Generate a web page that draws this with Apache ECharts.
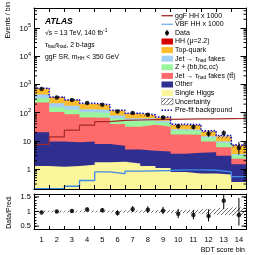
<!DOCTYPE html>
<html><head><meta charset="utf-8">
<script src="https://cdn.jsdelivr.net/npm/echarts@6/dist/echarts.min.js"></script>
<style>html,body{margin:0;padding:0;background:#fff}#c{width:266px;height:255px}</style>
</head><body><div id="c"></div>
<script>
// ---------- data ----------
const bins = [1,2,3,4,5,6,7,8,9,10,11,12,13,14];
const xLabels = ['1','2','3','4','5','6','7','8','9','10','11','12','13','14'];
const singleHiggs = [1.3, 1.22, 1.3, 1.45, 1.75, 1.85, 1.6, 1.3, 1.1, 0.8, 0.7, 0.7, 0.65, 0.35];
const otherBkg    = [19.0, 8.4, 7.7, 8.15, 6.05, 4.85, 3.4, 3.2, 3.1, 2.7, 3.1, 3.3, 2.35, 1.15];
const jetFakesTT  = [210, 95, 79, 58, 58, 33, 27, 32.5, 27.8, 13.5, 12.7, 5.5, 3.0, 0.85];
const zHF         = [90, 52, 40, 35, 32, 24, 20, 17, 13, 6.5, 6.5, 3.5, 2.5, 0.8];
const jetFakes    = [120, 60, 47, 30, 27, 16, 12, 9, 7, 2.5, 2, 1.5, 1.0, 0.3];
const topQuark    = [260, 128, 100, 71, 58, 36, 27, 16, 14, 10, 10, 6.5, 4.5, 3.3];
const hhSignal    = [0.02, 0.03, 0.05, 0.08, 0.1, 0.12, 0.13, 0.13, 0.13, 0.13, 0.14, 0.14, 0.14, 0.14];
const ggFHH       = [7.5, 14, 24, 36, 48, 53, 55, 57, 58, 59, 60, 60, 61, 62];
const vbfHH       = [0.205, 0.205, 0.25, 0.4, 0.8, 0.7, 0.85, 0.88, 0.9, 0.95, 0.95, 0.92, 0.8, 0.55];
const prefitBkg   = [735, 360, 285, 215, 192, 122, 96, 84, 70, 39, 38, 23, 15.5, 7.2];
const dataVals    = [680, 345, 280, 218, 190, 110, 98, 84, 68, 33, 31, 18, 19, 5.6];
const ratioVals   = [0.97, 1.00, 1.02, 1.07, 1.04, 0.95, 1.08, 1.06, 1.03, 0.92, 0.88, 0.85, 1.37, 0.88];
const ratioErrUp  = [0.04, 0.05, 0.06, 0.07, 0.08, 0.09, 0.11, 0.12, 0.13, 0.17, 0.17, 0.22, 0.33, 0.58];
const ratioErrDn  = [0.04, 0.05, 0.06, 0.07, 0.07, 0.09, 0.10, 0.11, 0.12, 0.15, 0.15, 0.19, 0.28, 0.36];
const uncRel      = [0.03, 0.03, 0.03, 0.03, 0.03, 0.04, 0.04, 0.04, 0.05, 0.05, 0.06, 0.09, 0.12, 0.14];

const FONT = 'Liberation Sans, Arial, Helvetica, sans-serif';
const YMIN = 0.2, YMAX = 5e5;

const layers = [
  {name:'Single Higgs', vals: singleHiggs, color:'#fbf59c'},
  {name:'Other', vals: otherBkg, color:'#2e2f8f'},
  {name:'JetTT', vals: jetFakesTT, color:'#ff6b6b'},
  {name:'Z', vals: zHF, color:'#9af59c'},
  {name:'Jet', vals: jetFakes, color:'#a3cff7'},
  {name:'Top', vals: topQuark, color:'#fcbd2d'},
  {name:'HH', vals: hhSignal, color:'#d40000'}
];
const cum = [];
layers.forEach((l, i) => cum.push(l.vals.map((v, k) => v + (i ? cum[i-1][k] : 0))));
const total = cum[cum.length-1];

const stepPts = vals => { const o=[]; vals.forEach((v,i)=>{ o.push([bins[i]-0.5, v]); o.push([bins[i]+0.5, v]); }); return o; };

function makeHatch(color){
  const c=document.createElement('canvas'); c.width=4; c.height=4;
  const g=c.getContext('2d'); g.strokeStyle=color; g.lineWidth=0.8; g.beginPath();
  g.moveTo(0,4); g.lineTo(4,0); g.moveTo(-1,1); g.lineTo(1,-1); g.moveTo(3,5); g.lineTo(5,3); g.stroke();
  return {image:c, repeat:'repeat'};
}
const hatch = makeHatch('#444');

function bandRender(params, api){
  const x=api.value(0), lo=api.value(1), hi=api.value(2);
  const a=api.coord([x-0.5, hi]), b=api.coord([x+0.5, lo]);
  return {type:'rect', shape:{x:a[0], y:a[1], width:b[0]-a[0], height:b[1]-a[1]}, style:{fill:hatch}};
}
function errRender(params, api){
  const x=api.value(0), lo=api.value(1), hi=api.value(2);
  const a=api.coord([x, hi]), b=api.coord([x, lo]);
  return {type:'line', shape:{x1:a[0], y1:a[1], x2:b[0], y2:b[1]}, style:{stroke:'#000', lineWidth:1}};
}
function tickRender(len){
  return function(params, api){
    const v=api.value(1);
    const l=api.coord([0.5, v]), r=api.coord([14.5, v]);
    return {type:'group', children:[
      {type:'line', shape:{x1:l[0], y1:l[1], x2:l[0]+len, y2:l[1]}, style:{stroke:'#000', lineWidth:1}},
      {type:'line', shape:{x1:r[0], y1:r[1], x2:r[0]-len, y2:r[1]}, style:{stroke:'#000', lineWidth:1}}
    ]};
  };
}
const minorLog = [];
for (let d=-1; d<=5; d++) for (let m=2; m<=9; m++) { const v=m*Math.pow(10,d); if (v>YMIN*1.001 && v<YMAX*0.999) minorLog.push([1, v]); }

const series = [];
for (let i=layers.length-1; i>=0; i--) {
  series.push({type:'line', xAxisIndex:0, yAxisIndex:0, data: stepPts(cum[i]), symbol:'none', silent:true,
    lineStyle:{width:0}, areaStyle:{color:layers[i].color, opacity:1, origin:'start'}, z:2});
}
series.push({type:'line', xAxisIndex:0, yAxisIndex:0, data: stepPts(ggFHH), symbol:'none', lineStyle:{color:'#a52a2a', width:1.2}, z:3});
series.push({type:'line', xAxisIndex:0, yAxisIndex:0, data: stepPts(vbfHH), symbol:'none', lineStyle:{color:'#3d8ae6', width:1.3}, z:3});
series.push({type:'custom', xAxisIndex:0, yAxisIndex:0, renderItem: bandRender, clip:true, z:4,
  data: bins.map((b,i)=>[b, total[i]*(1-uncRel[i]), total[i]*(1+uncRel[i])])});
series.push({type:'line', xAxisIndex:0, yAxisIndex:0, data: stepPts(prefitBkg), symbol:'none', lineStyle:{color:'#1010c8', width:1.5, type:[1.5,1.5]}, z:5});
series.push({type:'custom', xAxisIndex:0, yAxisIndex:0, renderItem: errRender, clip:true, z:6,
  data: bins.map((b,i)=>[b, dataVals[i]*(1-ratioErrDn[i]/ratioVals[i]), dataVals[i]*(1+ratioErrUp[i]/ratioVals[i])])});
series.push({type:'scatter', xAxisIndex:0, yAxisIndex:0, data: bins.map((b,i)=>[b, dataVals[i]]), symbol:'circle', symbolSize:4.5, itemStyle:{color:'#000'}, z:7});
series.push({type:'custom', xAxisIndex:0, yAxisIndex:0, renderItem: tickRender(3), data: minorLog, z:8});
// ratio panel
series.push({type:'custom', xAxisIndex:3, yAxisIndex:2, renderItem: bandRender, clip:true, z:4,
  data: bins.map((b,i)=>[b, 1-uncRel[i], 1+uncRel[i]])});
series.push({type:'custom', xAxisIndex:3, yAxisIndex:2, renderItem: errRender, clip:true, z:6,
  data: bins.map((b,i)=>[b, ratioVals[i]-ratioErrDn[i], ratioVals[i]+ratioErrUp[i]])});
series.push({type:'scatter', xAxisIndex:3, yAxisIndex:2, data: bins.map((b,i)=>[b, ratioVals[i]]), symbol:'circle', symbolSize:4.5, itemStyle:{color:'#000'}, z:7});
series.push({type:'custom', xAxisIndex:3, yAxisIndex:2, renderItem: tickRender(5), data: [[1,0.5],[1,1],[1,1.5]], z:8});

const axLine = {show:true, onZero:false, lineStyle:{color:'#000', width:1}};
const catAxis = (grid, pos, labels, tickLen) => ({
  gridIndex:grid, type:'category', data:xLabels, position:pos, boundaryGap:true, z:10,
  axisLine:axLine, axisTick:{show:true, inside:true, length:tickLen, interval:0, lineStyle:{color:'#000'}},
  axisLabel: labels ? {show:true, interval:0, margin:7, fontSize:7.5, fontFamily:FONT, color:'#000'} : {show:false},
  splitLine:{show:false}
});
const supRich = {b:{fontSize:7.5, fontFamily:FONT, color:'#000', lineHeight:10, verticalAlign:'bottom'},
                 s:{fontSize:5.5, fontFamily:FONT, color:'#000', lineHeight:6, verticalAlign:'top'}};

const subTxt = {n:{fontSize:7, fontFamily:FONT, fill:'#000', lineHeight:9}, s:{fontSize:5, fontFamily:FONT, fill:'#000', lineHeight:5, verticalAlign:'bottom'},
  u:{fontSize:5, fontFamily:FONT, fill:'#000', lineHeight:5, verticalAlign:'top'}};
const infoRich = {n:{fontSize:6.8, fontFamily:FONT, fill:'#000', lineHeight:9}, s:{fontSize:4.8, fontFamily:FONT, fill:'#000', lineHeight:5, verticalAlign:'bottom'},
  u:{fontSize:4.8, fontFamily:FONT, fill:'#000', lineHeight:5, verticalAlign:'top'}};

const legendEntries = [
  {t:'{n|ggF HH x 1000}', kind:'line', color:'#a52a2a'},
  {t:'{n|VBF HH x 1000}', kind:'line', color:'#7ab0f5'},
  {t:'{n|Data}', kind:'data'},
  {t:'{n|HH (μ=2.2)}', kind:'box', color:'#d40000'},
  {t:'{n|Top-quark}', kind:'box', color:'#fcbd2d'},
  {t:'{n|Jet → τ}{s|had}{n| fakes}', kind:'box', color:'#a3cff7'},
  {t:'{n|Z + (bb,bc,cc)}', kind:'box', color:'#9af59c'},
  {t:'{n|Jet → τ}{s|had}{n| fakes (tt\u0304)}', kind:'box', color:'#ff6b6b'},
  {t:'{n|Other}', kind:'box', color:'#2e2f8f'},
  {t:'{n|Single Higgs}', kind:'box', color:'#fbf59c'},
  {t:'{n|Uncertainty}', kind:'hatch'},
  {t:'{n|Pre-fit background}', kind:'dot'}
];
const g = [];
legendEntries.forEach((e, i) => {
  const y = 15.7 + 8.6*i;
  if (e.kind==='line') g.push({type:'line', shape:{x1:161.5, y1:y, x2:173, y2:y}, style:{stroke:e.color, lineWidth:1.3}});
  if (e.kind==='dot') g.push({type:'line', shape:{x1:161.5, y1:y, x2:173, y2:y}, style:{stroke:'#1010c8', lineWidth:1.5, lineDash:[1.5,1.5]}});
  if (e.kind==='box') g.push({type:'rect', shape:{x:161.5, y:y-3, width:11.5, height:6}, style:{fill:e.color}});
  if (e.kind==='hatch') g.push({type:'rect', shape:{x:161.5, y:y-3, width:11.5, height:6}, style:{fill:hatch, stroke:'#666', lineWidth:0.5}});
  if (e.kind==='data') { g.push({type:'circle', shape:{cx:167, cy:y, r:2}, style:{fill:'#000'}});
                         g.push({type:'line', shape:{x1:167, y1:y-3, x2:167, y2:y+3}, style:{stroke:'#000', lineWidth:1}}); }
  g.push({type:'text', x:175, y:y, style:{text:e.t, rich:subTxt, align:'left', verticalAlign:'middle', textAlign:'left', textVerticalAlign:'middle'}});
});
g.push({type:'text', x:45, y:22, style:{text:'ATLAS', font:'italic bold 8.5px '+FONT, fill:'#000', align:'left', verticalAlign:'middle'}});
g.push({type:'text', x:45, y:33, style:{text:'{n|√s = 13 TeV, 140 fb}{u|-1}', rich:infoRich, align:'left', verticalAlign:'middle'}});
g.push({type:'text', x:45, y:45, style:{text:'{n|τ}{s|had}{n|τ}{s|had}{n|, 2 b-tags}', rich:infoRich, align:'left', verticalAlign:'middle'}});
g.push({type:'text', x:45, y:57, style:{text:'{n|ggF SR, m}{s|HH}{n| < 350 GeV}', rich:infoRich, align:'left', verticalAlign:'middle'}});
g.push({type:'text', x:8, y:2, rotation:Math.PI/2, style:{text:'Events / bin', font:'7px '+FONT, fill:'#000', align:'right', verticalAlign:'middle'}});
g.push({type:'text', x:9, y:212, rotation:Math.PI/2, style:{text:'Data/Pred.', font:'7px '+FONT, fill:'#000', align:'center', verticalAlign:'middle'}});
g.push({type:'text', x:245, y:250, style:{text:'BDT score bin', font:'7px '+FONT, fill:'#000', align:'right', verticalAlign:'middle'}});

const option = {
  animation:false,
  backgroundColor:'#fff',
  grid:[{left:34, top:8, width:212.5, height:181}, {left:34, top:194, width:212.5, height:35}],
  xAxis:[
    {gridIndex:0, type:'value', min:0.5, max:14.5, show:false},
    catAxis(0,'bottom',false,4),
    catAxis(0,'top',false,4),
    {gridIndex:1, type:'value', min:0.5, max:14.5, show:false},
    catAxis(1,'bottom',true,3),
    catAxis(1,'top',false,3)
  ],
  yAxis:[
    {gridIndex:0, type:'log', min:YMIN, max:YMAX, splitNumber:6, position:'left', z:10,
     axisLine:axLine, axisTick:{show:true, inside:true, length:6, lineStyle:{color:'#000'}}, splitLine:{show:false},
     axisLabel:{show:true, margin:3, showMinLabel:true, showMaxLabel:true, rich:supRich,
       formatter: v => { const e=Math.log10(v); if (Math.abs(e-Math.round(e))>1e-6) return ''; const n=Math.round(e);
         if (n<0 || n>5) return ''; if (n===0) return '{b|1}'; if (n===1) return '{b|10}'; return '{b|10}{s|'+n+'}'; }}},
    {gridIndex:0, type:'log', min:YMIN, max:YMAX, splitNumber:6, position:'right', z:10,
     axisLine:axLine, axisTick:{show:true, inside:true, length:6, lineStyle:{color:'#000'}}, splitLine:{show:false}, axisLabel:{show:false}},
    {gridIndex:1, type:'value', min:0.4, max:1.6, interval:0.1, position:'left', z:10,
     axisLine:axLine, axisTick:{show:true, inside:true, length:2.5, lineStyle:{color:'#000'}}, splitLine:{show:false},
     axisLabel:{show:true, margin:3, fontSize:7.5, fontFamily:FONT, color:'#000', showMinLabel:true, showMaxLabel:true,
       formatter: v => (Math.abs(v-0.5)<1e-6?'0.5':Math.abs(v-1)<1e-6?'1':Math.abs(v-1.5)<1e-6?'1.5':'')}},
    {gridIndex:1, type:'value', min:0.4, max:1.6, interval:0.1, position:'right', z:10,
     axisLine:axLine, axisTick:{show:true, inside:true, length:2.5, lineStyle:{color:'#000'}}, splitLine:{show:false}, axisLabel:{show:false}}
  ],
  series: series,
  graphic: {elements: g}
};
const chart = echarts.init(document.getElementById('c'), null, {renderer:'canvas'});
chart.setOption(option);
</script></body></html>
